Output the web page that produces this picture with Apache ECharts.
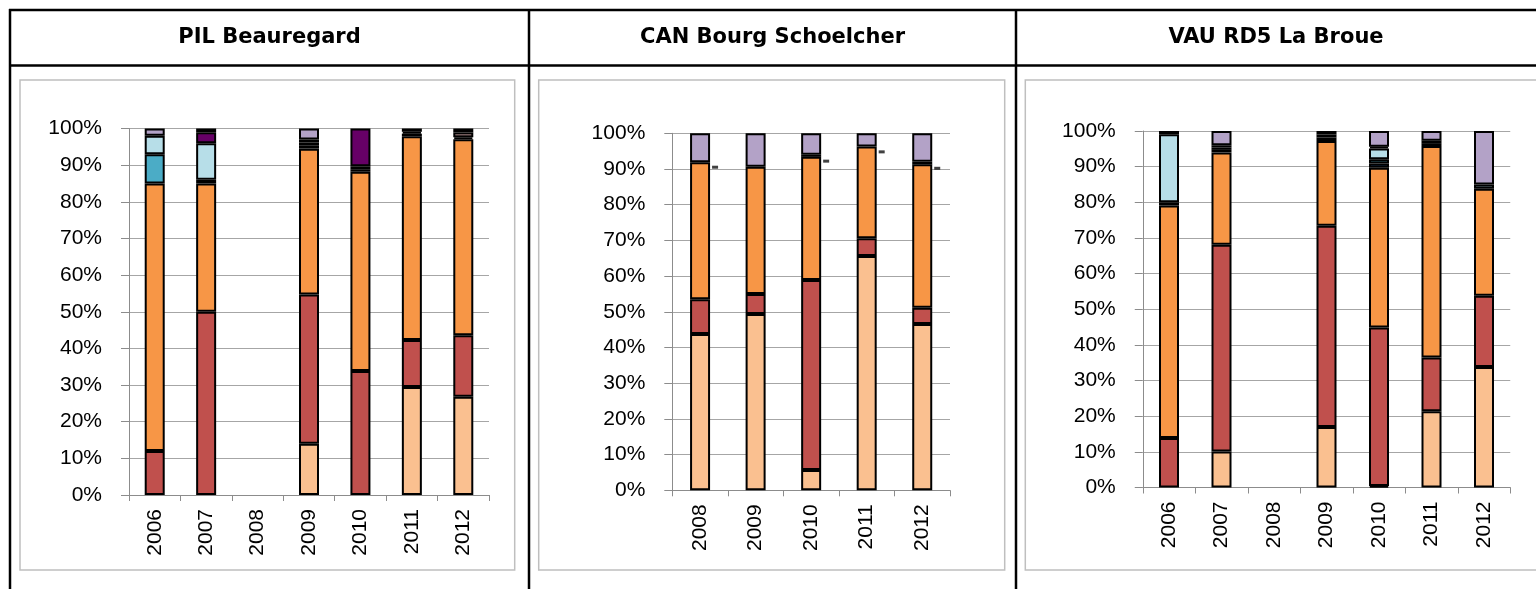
<!DOCTYPE html>
<html>
<head>
<meta charset="utf-8">
<title>Répartition par classe</title>
<script src="https://cdn.jsdelivr.net/npm/echarts@6/dist/echarts.min.js"></script>
<style>
  html, body { margin: 0; padding: 0; background: #ffffff; }
  #chart { width: 1536px; height: 589px; }
</style>
</head>
<body>
<div id="chart"></div>
<script>
// Station titles
const stationTitles = ['PIL Beauregard', 'CAN Bourg Schoelcher', 'VAU RD5 La Broue'];

// Categories (years) per station
const pilYears = ['2006', '2007', '2008', '2009', '2010', '2011', '2012'];
const canYears = ['2008', '2009', '2010', '2011', '2012'];
const vauYears = ['2006', '2007', '2008', '2009', '2010', '2011', '2012'];

// Stack classes, bottom to top
const classNames = ['Classe 1', 'Classe 2', 'Classe 3', 'Classe 4', 'Classe 5',
                    'Classe 6', 'Classe 7', 'Classe 8', 'Classe 9', 'Classe 10'];
const classColors = ['#FAC090', '#C0504D', '#F79646', '#1F497D', '#4BACC6',
                     '#B7DEE8', '#9BBB59', '#660066', '#E6B9B8', '#B3A2C7'];

// PIL Beauregard shares (%) per class
const pilC1  = [0, 0, null, 14, 0, 29.5, 26.8];
const pilC2  = [12, 50, null, 40.7, 33.8, 12.8, 16.8];
const pilC3  = [73, 35, null, 39.8, 54.4, 55.6, 53.5];
const pilC4  = [0, 0, null, 0.8, 0.7, 0.7, 0];
const pilC5  = [8, 1, null, 0, 0, 0, 0];
const pilC6  = [5, 10, null, 0.9, 0, 0.5, 0];
const pilC7  = [0, 0, null, 0, 0.8, 0, 0];
const pilC8  = [0, 3, null, 0.8, 10.3, 0.9, 0.5];
const pilC9  = [0, 0, null, 0, 0, 0, 1.3];
const pilC10 = [2, 1, null, 3, 0, 0, 1.1];

// CAN Bourg Schoelcher shares (%) per class
const canC1  = [43.8, 49.4, 5.7, 65.6, 46.6];
const canC2  = [9.7, 5.6, 53.2, 5.0, 4.5];
const canC3  = [38.4, 35.6, 34.5, 25.7, 40.2];
const canC4  = [0, 0, 0.6, 0, 0];
const canC5  = [0, 0, 0, 0, 0];
const canC6  = [0, 0, 0, 0, 0];
const canC7  = [0, 0, 0, 0, 0];
const canC8  = [0, 0, 0, 0, 0.7];
const canC9  = [0, 0, 0, 0, 0];
const canC10 = [8.1, 9.4, 6.0, 3.7, 8.0];
// Reference level marks beside the CAN bars (%)
const canMarks = [90.5, null, 92.2, 94.8, 90.2];

// VAU RD5 La Broue shares (%) per class
const vauC1  = [0, 10.1, null, 17, 0.4, 21.4, 33.8];
const vauC2  = [13.9, 58, null, 56.4, 44.5, 15.1, 20];
const vauC3  = [65.2, 25.9, null, 23.8, 44.8, 59.3, 30];
const vauC4  = [0.9, 0.7, null, 1, 1.2, 0.8, 0];
const vauC5  = [0, 0.7, null, 0.8, 1.2, 0, 0];
const vauC6  = [19.1, 0, null, 0, 3, 0, 1.2];
const vauC7  = [0, 0.6, null, 0, 0, 0, 0];
const vauC8  = [0.9, 0, null, 1, 0.5, 0.7, 0];
const vauC9  = [0, 0, null, 0, 0, 0, 0];
const vauC10 = [0, 4, null, 0, 4.4, 2.7, 15];

// Y axis ticks
const yMin = 0, yMax = 100, yStep = 10;

const panels = [
  { years: pilYears, cols: [pilC1, pilC2, pilC3, pilC4, pilC5, pilC6, pilC7, pilC8, pilC9, pilC10] },
  { years: canYears, cols: [canC1, canC2, canC3, canC4, canC5, canC6, canC7, canC8, canC9, canC10], marks: canMarks },
  { years: vauYears, cols: [vauC1, vauC2, vauC3, vauC4, vauC5, vauC6, vauC7, vauC8, vauC9, vauC10] }
];

// Layout of the three plot areas
const grids = [
  { left: 129, top: 128.5, width: 360, height: 366.5 },
  { left: 672.3, top: 133.3, width: 277.7, height: 357 },
  { left: 1142.75, top: 131, width: 367.5, height: 356.5 }
];

const labelFont = 'Liberation Sans, Arial, sans-serif';

const xAxes = [], yAxes = [], series = [];
panels.forEach((p, i) => {
  xAxes.push({
    type: 'category', gridIndex: i, data: p.years,
    axisLine: { lineStyle: { color: '#8c8c8c', width: 1 } },
    axisTick: { show: true, length: 6, lineStyle: { color: '#8c8c8c' } },
    axisLabel: { rotate: 90, margin: 14, fontFamily: labelFont, fontSize: 21, color: '#000' },
    splitLine: { show: false }
  });
  yAxes.push({
    type: 'value', gridIndex: i, min: yMin, max: yMax, interval: yStep,
    axisLine: { show: true, lineStyle: { color: '#8c8c8c', width: 1 } },
    axisTick: { show: true, length: 8, lineStyle: { color: '#8c8c8c' } },
    axisLabel: { formatter: '{value}%', margin: 27, fontFamily: labelFont, fontSize: 21, color: '#000' },
    splitLine: { show: true, lineStyle: { color: '#a6a6a6', width: 1 } }
  });
  p.cols.forEach((col, k) => {
    series.push({
      type: 'bar', name: classNames[k], stack: 'p' + i,
      xAxisIndex: i, yAxisIndex: i, barWidth: 20,
      itemStyle: { color: classColors[k], borderColor: '#000', borderWidth: 2 },
      data: col.map(v => (v === null || v === 0) ? '-' : v),
      silent: true, animation: false
    });
  });
  if (p.marks) {
    series.push({
      type: 'scatter', name: 'Repère', xAxisIndex: i, yAxisIndex: i,
      symbol: 'rect', symbolSize: [6, 3], symbolOffset: [15, 0],
      itemStyle: { color: '#111' },
      data: p.marks.map(v => v === null ? '-' : v),
      silent: true, animation: false, z: 5
    });
  }
});

// Table frame, plot frames and station headers
const graphics = [];
const line = (x1, y1, x2, y2, w, c) => ({
  type: 'line', shape: { x1, y1, x2, y2 }, style: { stroke: c, lineWidth: w }, silent: true
});
graphics.push(line(9, 10, 1536, 10, 2.5, '#000'));
graphics.push(line(9, 65.5, 1536, 65.5, 2.5, '#000'));
[10, 529, 1016].forEach(x => graphics.push(line(x, 9, x, 589, 2.5, '#000')));
[[20, 514.7], [538.7, 1004.7], [1025.3, 1560]].forEach(([x1, x2]) => {
  graphics.push({
    type: 'rect', shape: { x: x1, y: 80, width: x2 - x1, height: 490 },
    style: { fill: 'none', stroke: '#bfbfbf', lineWidth: 1.5 }, silent: true
  });
});
const titleCenters = [269.5, 772.5, 1276];
stationTitles.forEach((t, i) => {
  graphics.push({
    type: 'text', x: titleCenters[i], y: 38,
    style: { text: t, textAlign: 'center', textVerticalAlign: 'middle',
             font: 'bold 21px "DejaVu Sans", Verdana, sans-serif', fill: '#000' },
    silent: true
  });
});

const chart = echarts.init(document.getElementById('chart'), null, { renderer: 'canvas' });
chart.setOption({
  animation: false,
  backgroundColor: '#ffffff',
  grid: grids.map(g => Object.assign({ containLabel: false }, g)),
  xAxis: xAxes,
  yAxis: yAxes,
  series: series,
  graphic: graphics
});
</script>
</body>
</html>
